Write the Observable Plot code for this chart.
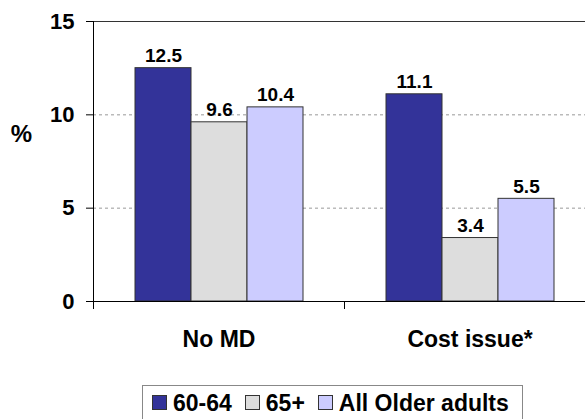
<!DOCTYPE html>
<html>
<head>
<meta charset="utf-8">
<script src="https://cdn.jsdelivr.net/npm/d3@7"></script>
<script src="https://cdn.jsdelivr.net/npm/@observablehq/plot@0.6"></script>
<style>
  html, body { margin: 0; padding: 0; background: #fff; overflow: hidden; }
  body { font-family: "Liberation Sans", Arial, sans-serif; }
  #legend {
    box-sizing: border-box;
    width: 381px;
    margin-left: 142px;
    margin-top: 25px;
    border: 1px solid #888;
    padding: 6px 0 8px 9px;
    font-weight: bold;
    font-size: 23px;
    line-height: 1;
    color: #000;
    white-space: nowrap;
  }
  #legend .sw {
    display: inline-block;
    box-sizing: border-box;
    width: 15px;
    height: 15px;
    border: 1px solid #333;
    vertical-align: 1px;
    margin-right: 6px;
  }
  #legend .lab { margin-right: 13px; }
</style>
</head>
<body>
<div id="chart"></div>
<script>
const categories = ["No MD", "Cost issue*"];
const series = ["60-64", "65+", "All Older adults"];
const values6064 = [12.5, 11.1];
const values65 = [9.6, 3.4];
const valuesAll = [10.4, 5.5];
const colors = ["#333399", "#DDDDDD", "#CCCCFF"];
const yTicks = [0, 5, 10, 15];

const seriesValues = [values6064, values65, valuesAll];
const data = [];
categories.forEach((c, i) => {
  series.forEach((s, j) => data.push({cat: c, series: s, value: seriesValues[j][i]}));
});

const chart = Plot.plot({
  width: 585,
  height: 360,
  marginTop: 21,
  marginBottom: 59,
  marginLeft: 93,
  marginRight: -10,
  style: {fontFamily: "Liberation Sans, Arial, sans-serif", fontWeight: "bold", color: "#000", background: "#fff"},
  fx: {domain: categories, padding: 0, label: null},
  x: {domain: series, paddingInner: 0, paddingOuter: 0.741, align: 0.5, axis: null},
  y: {domain: [0, 15], axis: null},
  color: {domain: series, range: colors},
  marks: [
    Plot.gridY({ticks: [5, 10, 15], stroke: "#999", strokeOpacity: 1, strokeDasharray: "3,3"}),
    Plot.ruleY([15], {stroke: "#333"}),
    Plot.barY(data, {fx: "cat", x: "series", y: "value", fill: "series", stroke: "#333", strokeWidth: 1}),
    Plot.text(data, {fx: "cat", x: "series", y: "value", text: d => d.value.toFixed(1), dy: -6, lineAnchor: "bottom", fontSize: 19, fontWeight: "bold", fill: "#000"}),
    Plot.ruleY([0], {stroke: "#000"}),
    Plot.ruleX([{cat: categories[0]}], {fx: "cat", x: null, dx: -125.5, insetBottom: -8, stroke: "#000"}),
    Plot.axisY({ticks: yTicks, tickSize: 7, tickPadding: 12, fontSize: 22, fontWeight: "bold", label: null, stroke: "#000"}),
    Plot.axisFx({anchor: "bottom", tickSize: 8, dx: -125.5, tickFormat: () => "", label: null, stroke: "#000"}),
    Plot.axisFx({anchor: "bottom", tickSize: 0, tickPadding: 29, fontSize: 23, fontWeight: "bold", label: null}),
    Plot.text([{cat: categories[0]}], {fx: "cat", text: () => "%", frameAnchor: "left", textAnchor: "middle", dx: -72, dy: -27, fontSize: 24, fontWeight: "bold", fill: "#000"})
  ]
});
document.getElementById("chart").appendChild(chart);

const legend = document.createElement("div");
legend.id = "legend";
series.forEach((s, i) => {
  const sw = document.createElement("span");
  sw.className = "sw";
  sw.style.background = colors[i];
  const lab = document.createElement("span");
  lab.className = "lab";
  lab.textContent = s;
  legend.appendChild(sw);
  legend.appendChild(lab);
});
document.body.appendChild(legend);
</script>
</body>
</html>
